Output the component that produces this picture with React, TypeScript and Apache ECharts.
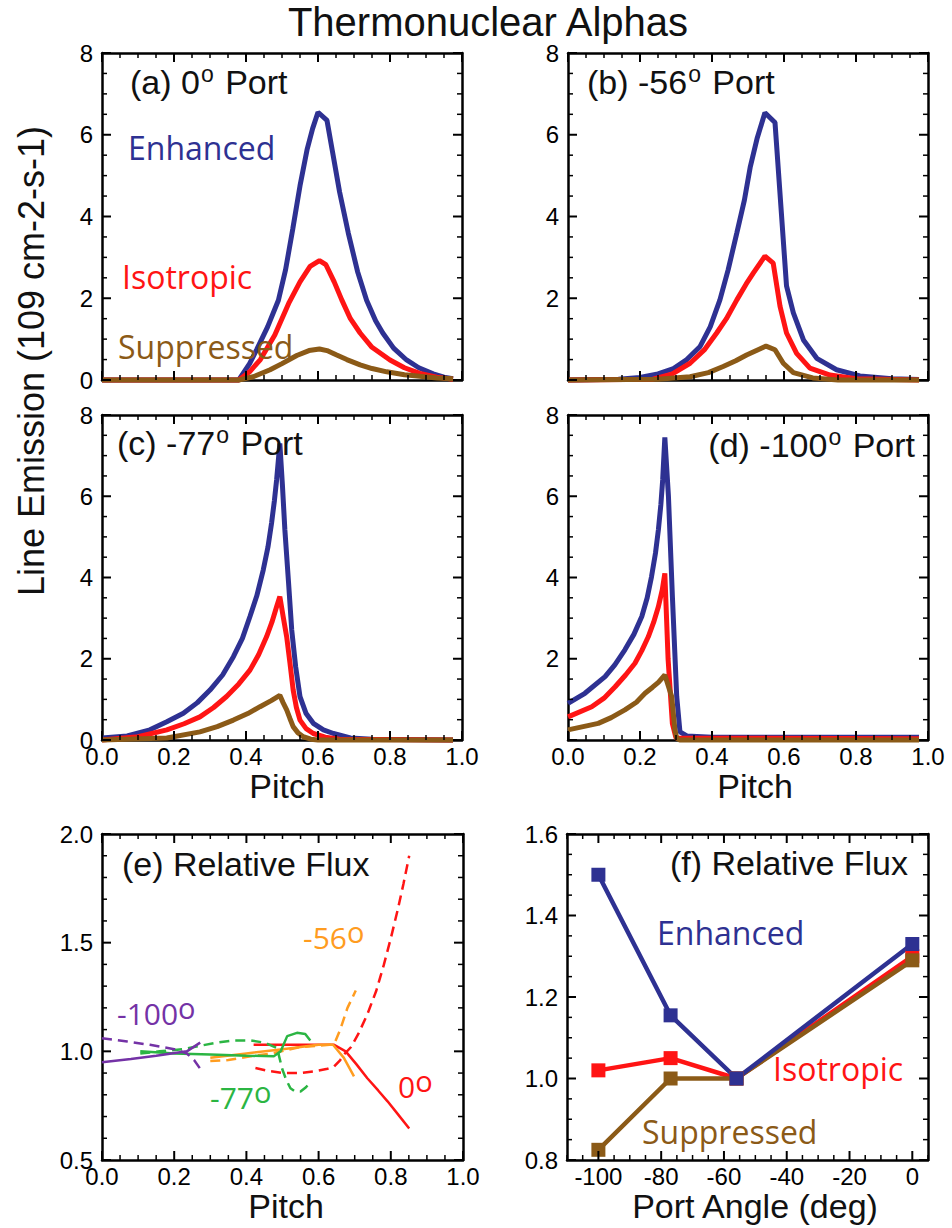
import React, { useEffect, useRef } from "react";
import * as echarts from "echarts";

type Pt = [number, number];

// ---- (a) 0º port: line emission vs pitch ----
const enhanced0: Pt[] = [[0, 0], [0.38, 0], [0.41, 0.4], [0.43, 0.75], [0.46, 1.3], [0.49, 1.95], [0.51, 2.7], [0.53, 3.7], [0.55, 4.75], [0.57, 5.65], [0.585, 6.15], [0.6, 6.55], [0.625, 6.35], [0.64, 5.6], [0.66, 4.6], [0.684, 3.6], [0.71, 2.65], [0.735, 1.95], [0.76, 1.45], [0.78, 1.15], [0.81, 0.78], [0.846, 0.49], [0.88, 0.3], [0.92, 0.15], [0.95, 0.07], [0.975, 0.03]];
const isotropic0: Pt[] = [[0, 0], [0.38, 0], [0.41, 0.2], [0.44, 0.5], [0.48, 1.1], [0.52, 1.9], [0.55, 2.4], [0.578, 2.78], [0.604, 2.92], [0.622, 2.82], [0.645, 2.4], [0.666, 1.96], [0.69, 1.5], [0.717, 1.15], [0.75, 0.8], [0.8, 0.49], [0.84, 0.3], [0.883, 0.16], [0.93, 0.07], [0.975, 0.02]];
const suppressed0: Pt[] = [[0, 0], [0.38, 0], [0.42, 0.08], [0.467, 0.25], [0.5, 0.4], [0.541, 0.6], [0.575, 0.72], [0.604, 0.76], [0.625, 0.72], [0.652, 0.61], [0.68, 0.5], [0.717, 0.37], [0.75, 0.28], [0.791, 0.2], [0.84, 0.13], [0.883, 0.09], [0.93, 0.05], [0.975, 0.03]];

// ---- (b) -56º port ----
const enhanced56: Pt[] = [[0, 0], [0.14, 0.02], [0.2, 0.06], [0.25, 0.15], [0.293, 0.28], [0.33, 0.5], [0.367, 0.82], [0.395, 1.3], [0.422, 1.96], [0.445, 2.7], [0.469, 3.6], [0.49, 4.4], [0.506, 5.2], [0.525, 5.9], [0.547, 6.54], [0.575, 6.3], [0.607, 2.3], [0.626, 1.64], [0.654, 0.98], [0.691, 0.53], [0.746, 0.25], [0.811, 0.1], [0.9, 0.03], [0.975, 0.01]];
const isotropic56: Pt[] = [[0, 0], [0.236, 0.02], [0.29, 0.15], [0.339, 0.41], [0.38, 0.75], [0.413, 1.15], [0.44, 1.5], [0.469, 1.96], [0.495, 2.35], [0.515, 2.62], [0.547, 3.03], [0.57, 2.86], [0.589, 1.8], [0.607, 1.15], [0.635, 0.65], [0.672, 0.29], [0.728, 0.12], [0.8, 0.03], [0.975, 0]];
const suppressed56: Pt[] = [[0, 0], [0.25, 0.02], [0.339, 0.08], [0.39, 0.18], [0.431, 0.33], [0.466, 0.47], [0.496, 0.61], [0.525, 0.73], [0.55, 0.83], [0.575, 0.74], [0.598, 0.41], [0.626, 0.18], [0.68, 0.05], [0.75, 0], [0.975, 0]];

// ---- (c) -77º port ----
const enhanced77: Pt[] = [[0, 0.05], [0.07, 0.1], [0.133, 0.25], [0.18, 0.45], [0.226, 0.66], [0.265, 0.92], [0.3, 1.23], [0.335, 1.6], [0.365, 2.05], [0.39, 2.5], [0.411, 3.04], [0.43, 3.55], [0.448, 4.19], [0.461, 4.75], [0.471, 5.34], [0.479, 5.9], [0.485, 6.4], [0.494, 7.3], [0.501, 6.3], [0.508, 5.17], [0.518, 3.9], [0.527, 2.71], [0.538, 1.8], [0.55, 1.07], [0.567, 0.65], [0.587, 0.41], [0.615, 0.25], [0.643, 0.16], [0.69, 0.05], [0.75, 0.02], [0.975, 0]];
const isotropic77: Pt[] = [[0, 0], [0.1, 0.08], [0.18, 0.25], [0.228, 0.4], [0.272, 0.57], [0.31, 0.8], [0.346, 1.07], [0.38, 1.38], [0.411, 1.72], [0.435, 2.1], [0.457, 2.54], [0.472, 2.9], [0.485, 3.28], [0.494, 3.53], [0.503, 3.05], [0.513, 2.54], [0.522, 1.9], [0.531, 1.23], [0.54, 0.8], [0.55, 0.49], [0.567, 0.28], [0.587, 0.16], [0.62, 0.07], [0.66, 0.02], [0.975, 0]];
const suppressed77: Pt[] = [[0, 0], [0.18, 0.05], [0.272, 0.2], [0.32, 0.33], [0.365, 0.49], [0.405, 0.65], [0.439, 0.82], [0.47, 0.97], [0.494, 1.1], [0.503, 0.92], [0.513, 0.74], [0.522, 0.53], [0.531, 0.33], [0.545, 0.17], [0.559, 0.08], [0.58, 0.02], [0.6, 0], [0.975, 0]];

// ---- (d) -100º port ----
const enhanced100: Pt[] = [[0, 0.9], [0.047, 1.15], [0.103, 1.56], [0.13, 1.85], [0.158, 2.22], [0.183, 2.6], [0.205, 3.04], [0.22, 3.5], [0.232, 4.02], [0.243, 4.6], [0.251, 5.17], [0.258, 5.8], [0.263, 6.4], [0.269, 7.45], [0.279, 6.0], [0.29, 3.53], [0.302, 1.07], [0.311, 0.2], [0.33, 0.1], [0.4, 0.07], [0.975, 0.07]];
const isotropic100: Pt[] = [[0, 0.57], [0.066, 0.82], [0.1, 1.03], [0.131, 1.31], [0.16, 1.6], [0.186, 1.89], [0.205, 2.2], [0.223, 2.54], [0.238, 2.9], [0.251, 3.28], [0.262, 3.7], [0.269, 4.1], [0.278, 2.0], [0.29, 0.4], [0.3, 0.05], [0.975, 0.03]];
const suppressed100: Pt[] = [[0, 0.25], [0.084, 0.41], [0.12, 0.55], [0.158, 0.74], [0.19, 0.93], [0.214, 1.15], [0.235, 1.3], [0.251, 1.42], [0.269, 1.6], [0.288, 1.07], [0.297, 0.25], [0.302, 0.05], [0.31, 0], [0.975, 0]];

// ---- (e) relative flux vs pitch (dashed / solid per port) ----
const flux0Dash: Pt[] = [[0.425, 0.923], [0.46, 0.91], [0.504, 0.9], [0.55, 0.9], [0.596, 0.91], [0.625, 0.92], [0.643, 0.93], [0.66, 0.96], [0.67, 0.985], [0.69, 1.02], [0.71, 1.08], [0.735, 1.17], [0.76, 1.28], [0.781, 1.4], [0.8, 1.52], [0.819, 1.65], [0.835, 1.77], [0.851, 1.9]];
const flux0Solid: Pt[] = [[0.42, 1.03], [0.5, 1.03], [0.6, 1.03], [0.643, 1.03], [0.675, 1.0], [0.705, 0.94], [0.735, 0.876], [0.765, 0.82], [0.791, 0.77], [0.82, 0.71], [0.851, 0.645]];
const flux56Dash: Pt[] = [[0.3, 0.955], [0.35, 0.96], [0.411, 0.977], [0.47, 0.99], [0.55, 1.02], [0.63, 1.03], [0.645, 1.04], [0.66, 1.1], [0.68, 1.2], [0.703, 1.28]];
const flux56Solid: Pt[] = [[0.3, 0.97], [0.4, 0.99], [0.5, 1.01], [0.6, 1.03], [0.64, 1.03], [0.67, 0.97], [0.698, 0.885]];
const flux77Dash: Pt[] = [[0.106, 0.99], [0.16, 1.0], [0.226, 1.01], [0.27, 1.025], [0.319, 1.04], [0.365, 1.05], [0.411, 1.05], [0.45, 1.04], [0.485, 1.015], [0.499, 0.92], [0.51, 0.87], [0.522, 0.83], [0.535, 0.815], [0.55, 0.815], [0.565, 0.835], [0.578, 0.86]];
const flux77Solid: Pt[] = [[0.106, 1.0], [0.2, 0.99], [0.3, 0.985], [0.4, 0.98], [0.476, 0.977], [0.495, 1.0], [0.513, 1.07], [0.54, 1.085], [0.563, 1.08], [0.577, 1.05]];
const flux100Dash: Pt[] = [[0, 1.06], [0.07, 1.045], [0.133, 1.03], [0.2, 1.01], [0.235, 0.99], [0.255, 0.96], [0.272, 0.92]];
const flux100Solid: Pt[] = [[0, 0.95], [0.08, 0.965], [0.15, 0.98], [0.235, 1.0], [0.272, 1.04]];

// ---- (f) relative flux vs port angle ----
const portAngles = [-100, -77, -56, 0];
const fluxEnhanced = [1.5, 1.155, 1.0, 1.33];
const fluxIsotropic = [1.02, 1.05, 1.0, 1.3];
const fluxSuppressed = [0.825, 1.0, 1.0, 1.29];
const angleLabels = [-100, -80, -60, -40, -20, 0];

const BLUE = "#2e3192";
const RED = "#ff1414";
const BROWN = "#8b5a17";
const ORANGE = "#ff9c1f";
const GREEN = "#2bb543";
const PURPLE = "#7432a6";

const SANS = "'Liberation Sans', Arial, Helvetica, sans-serif";
const HUMAN = "'Open Sans', sans-serif";

const grids = [
  { left: 102, top: 53, width: 360, height: 327 },
  { left: 568, top: 53, width: 360, height: 327 },
  { left: 102, top: 415, width: 360, height: 325 },
  { left: 568, top: 415, width: 360, height: 325 },
  { left: 102, top: 834, width: 361, height: 326 },
  { left: 567, top: 834, width: 361, height: 326 },
];

// evenly spaced tick positions between lo and hi
function steps(lo: number, hi: number, step: number): number[] {
  const out: number[] = [];
  const n = Math.round((hi - lo) / step);
  for (let i = 0; i <= n; i++) out.push(+(lo + i * step).toFixed(6));
  return out;
}

interface Spec {
  min: number;
  max: number;
  interval: number;
  labels: boolean;
  fmt: (v: number) => string;
}

function axis(dim: "x" | "y", g: number, pos: string, s: Spec, labels: boolean) {
  return {
    type: "value",
    gridIndex: g,
    min: s.min,
    max: s.max,
    interval: s.interval,
    position: pos,
    splitLine: { show: false },
    axisLine: { show: true, onZero: false, lineStyle: { color: "#000", width: 2.5 } },
    axisTick: { show: false },
    minorTick: { show: false },
    axisLabel: {
      show: labels,
      formatter: s.fmt,
      margin: dim === "x" ? 4 : 9,
      color: "#000",
      fontFamily: SANS,
      fontSize: 24,
    },
  };
}

function axisPair(dim: "x" | "y", g: number, s: Spec) {
  return dim === "x"
    ? [axis("x", g, "bottom", s, s.labels), axis("x", g, "top", s, false)]
    : [axis("y", g, "left", s, s.labels), axis("y", g, "right", s, false)];
}

const fmt1 = (v: number) => v.toFixed(1);
const fmt0 = (v: number) => String(Math.round(v));
const fmtNoZero = (v: number) => (Math.abs(v) < 1e-9 ? "" : String(Math.round(v)));
const fmtAngle = (v: number) => (angleLabels.includes(Math.round(v)) ? String(Math.round(v)) : "");

function buildAxes() {
  const xAxis: any[] = [];
  const yAxis: any[] = [];
  const pitch = (g: number, labels: boolean) => axisPair("x", g, { min: 0, max: 1, interval: 0.2, labels, fmt: fmt1 });
  const emis = (g: number, fmt: (v: number) => string) =>
    axisPair("y", g, { min: 0, max: 8, interval: 2, labels: true, fmt });

  xAxis.push(...pitch(0, false), ...pitch(1, false), ...pitch(2, true), ...pitch(3, true), ...pitch(4, true));
  xAxis.push(...axisPair("x", 5, { min: -110, max: 5, interval: 10, labels: true, fmt: fmtAngle }));
  yAxis.push(...emis(0, fmt0), ...emis(1, fmtNoZero), ...emis(2, fmt0), ...emis(3, fmtNoZero));
  yAxis.push(...axisPair("y", 4, { min: 0.5, max: 2, interval: 0.5, labels: true, fmt: fmt1 }));
  yAxis.push(...axisPair("y", 5, { min: 0.8, max: 1.6, interval: 0.2, labels: true, fmt: fmt1 }));
  return { xAxis, yAxis };
}

interface TickSet {
  xr: [number, number];
  yr: [number, number];
  xMajor: number[];
  xMinor: number[];
  yMajor: number[];
  yMinor: number[];
}

function tickSets(): TickSet[] {
  const pitch = { xr: [0, 1] as [number, number], xMajor: steps(0, 1, 0.2), xMinor: steps(0, 1, 0.05) };
  const emis: TickSet = { ...pitch, yr: [0, 8], yMajor: steps(0, 8, 2), yMinor: steps(0, 8, 0.5) };
  return [
    emis,
    emis,
    emis,
    emis,
    { ...pitch, yr: [0.5, 2], yMajor: steps(0.5, 2, 0.5), yMinor: steps(0.5, 2, 0.1) },
    {
      xr: [-110, 5],
      yr: [0.8, 1.6],
      xMajor: angleLabels,
      xMinor: steps(-110, 5, 5),
      yMajor: steps(0.8, 1.6, 0.2),
      yMinor: steps(0.8, 1.6, 0.05),
    },
  ];
}

// inward tick marks on all four sides of each frame, positioned through each panel's axes
function tickGraphic(chart: any): any[] {
  const out: any[] = [];
  const near = (a: number[], v: number) => a.some((m) => Math.abs(m - v) < 1e-6);
  tickSets().forEach((t, i) => {
    const finder = { xAxisIndex: i * 2, yAxisIndex: i * 2 };
    const px = (x: number, y: number) => chart.convertToPixel(finder, [x, y]) as number[];
    const add = (x1: number, y1: number, x2: number, y2: number, major: boolean) => {
      if (![x1, y1, x2, y2].every((n) => Number.isFinite(n))) return;
      out.push({
        type: "line",
        silent: true,
        z: 6,
        shape: { x1, y1, x2, y2 },
        style: { stroke: "#000", lineWidth: major ? 2 : 1.5 },
      });
    };
    const xt = (v: number, major: boolean) => {
      const len = major ? 9 : 5;
      const b = px(v, t.yr[0]);
      const top = px(v, t.yr[1]);
      add(b[0], b[1], b[0], b[1] - len, major);
      add(top[0], top[1], top[0], top[1] + len, major);
    };
    const yt = (v: number, major: boolean) => {
      const len = major ? 9 : 5;
      const l = px(t.xr[0], v);
      const r = px(t.xr[1], v);
      add(l[0], l[1], l[0] + len, l[1], major);
      add(r[0], r[1], r[0] - len, r[1], major);
    };
    t.xMajor.forEach((v) => xt(v, true));
    t.xMinor.filter((v) => !near(t.xMajor, v)).forEach((v) => xt(v, false));
    t.yMajor.forEach((v) => yt(v, true));
    t.yMinor.filter((v) => !near(t.yMajor, v)).forEach((v) => yt(v, false));
  });
  return out;
}

function curve(panel: number, data: Pt[], color: string, width = 5, dashed = false) {
  return {
    type: "line",
    xAxisIndex: panel * 2,
    yAxisIndex: panel * 2,
    data,
    showSymbol: false,
    clip: false,
    lineStyle: dashed ? { color, width, type: [10, 6] } : { color, width },
  };
}

function angleSeries(values: number[], color: string) {
  return {
    type: "line",
    xAxisIndex: 10,
    yAxisIndex: 10,
    data: portAngles.map((a, i) => [a, values[i]]),
    symbol: "rect",
    symbolSize: 14,
    showSymbol: true,
    clip: false,
    itemStyle: { color },
    lineStyle: { color, width: 4.5 },
  };
}

function text(x: number, y: number, str: string, size: number, color: string, family = SANS, align = "left", rotation = 0) {
  return {
    type: "text",
    x,
    y,
    rotation,
    z: 10,
    style: { text: str, fill: color, fontSize: size, fontFamily: family, align, verticalAlign: "middle" },
  };
}

// label with a raised small "o" (degree mark), e.g. "(a) 0º Port"
function portLabel(x: number, y: number, before: string, after: string, align = "left") {
  return {
    type: "text",
    x,
    y,
    z: 10,
    style: {
      text: `{m|${before}}{s|o}{m|${after}}`,
      align,
      verticalAlign: "middle",
      rich: {
        m: { fontFamily: SANS, fontSize: 34, lineHeight: 40, fill: "#111" },
        s: { fontFamily: SANS, fontSize: 23, lineHeight: 22, verticalAlign: "top", fill: "#111", padding: [0, 2, 0, 1] },
      },
    },
  };
}

function degLabel(x: number, y: number, num: string, color: string) {
  return {
    type: "text",
    x,
    y,
    z: 10,
    style: {
      text: `{m|${num}}{s|o}`,
      align: "left",
      verticalAlign: "middle",
      rich: {
        m: { fontFamily: HUMAN, fontSize: 30, lineHeight: 40, fill: color },
        s: { fontFamily: HUMAN, fontSize: 29, lineHeight: 29, verticalAlign: "top", fill: color },
      },
    },
  };
}

function buildGraphic() {
  return [
    text(488, 22, "Thermonuclear Alphas", 40, "#111", SANS, "center"),
    text(31, 361, "Line Emission (109 cm-2-s-1)", 36, "#111", SANS, "center", Math.PI / 2),
    text(287, 786, "Pitch", 34, "#111", SANS, "center"),
    text(755, 786, "Pitch", 34, "#111", SANS, "center"),
    text(286, 1206, "Pitch", 34, "#111", SANS, "center"),
    text(755, 1206, "Port Angle (deg)", 34, "#111", SANS, "center"),
    portLabel(130, 82, "(a) 0", " Port"),
    portLabel(587, 82, "(b) -56", " Port"),
    portLabel(117, 443, "(c) -77", " Port"),
    portLabel(915, 445, "(d) -100", " Port", "right"),
    text(122, 864, "(e) Relative Flux", 34, "#111"),
    text(908, 863, "(f) Relative Flux", 34, "#111", SANS, "right"),
    text(128, 147, "Enhanced", 32, BLUE, HUMAN),
    text(122, 276, "Isotropic", 32, RED, HUMAN),
    text(118, 346, "Suppressed", 32, BROWN, HUMAN),
    text(657, 932, "Enhanced", 32, BLUE, HUMAN),
    text(773, 1068, "Isotropic", 32, RED, HUMAN),
    text(642, 1131, "Suppressed", 32, BROWN, HUMAN),
    degLabel(117, 1013, "-100", PURPLE),
    degLabel(303, 937, "-56", ORANGE),
    degLabel(210, 1097, "-77", GREEN),
    degLabel(398, 1086, "0", RED),
  ];
}

function buildOption() {
  const { xAxis, yAxis } = buildAxes();
  const series: any[] = [
    curve(0, enhanced0, BLUE), curve(0, isotropic0, RED), curve(0, suppressed0, BROWN),
    curve(1, enhanced56, BLUE), curve(1, isotropic56, RED), curve(1, suppressed56, BROWN),
    curve(2, enhanced77, BLUE), curve(2, isotropic77, RED), curve(2, suppressed77, BROWN),
    curve(3, enhanced100, BLUE), curve(3, isotropic100, RED), curve(3, suppressed100, BROWN),
    curve(4, flux0Dash, RED, 2.5, true), curve(4, flux0Solid, RED, 2.5),
    curve(4, flux56Dash, ORANGE, 2.5, true), curve(4, flux56Solid, ORANGE, 2.5),
    curve(4, flux77Dash, GREEN, 2.5, true), curve(4, flux77Solid, GREEN, 2.5),
    curve(4, flux100Dash, PURPLE, 2.5, true), curve(4, flux100Solid, PURPLE, 2.5),
    angleSeries(fluxIsotropic, RED),
    angleSeries(fluxSuppressed, BROWN),
    angleSeries(fluxEnhanced, BLUE),
  ];
  return { animation: false, backgroundColor: "#fff", grid: grids, xAxis, yAxis, series };
}

export default function App() {
  const ref = useRef<HTMLDivElement>(null);
  useEffect(() => {
    if (!ref.current) return;
    const chart = echarts.init(ref.current, null, { renderer: "svg" });
    chart.setOption(buildOption() as any);
    let ticks: any[] = [];
    try {
      ticks = tickGraphic(chart);
    } catch (e) {
      ticks = [];
    }
    chart.setOption({ graphic: [...buildGraphic(), ...ticks] } as any);
    return () => chart.dispose();
  }, []);
  return (
    <div
      ref={ref}
      style={{ position: "absolute", left: 0, top: 0, width: 952, height: 1228, background: "#fff" }}
    />
  );
}
